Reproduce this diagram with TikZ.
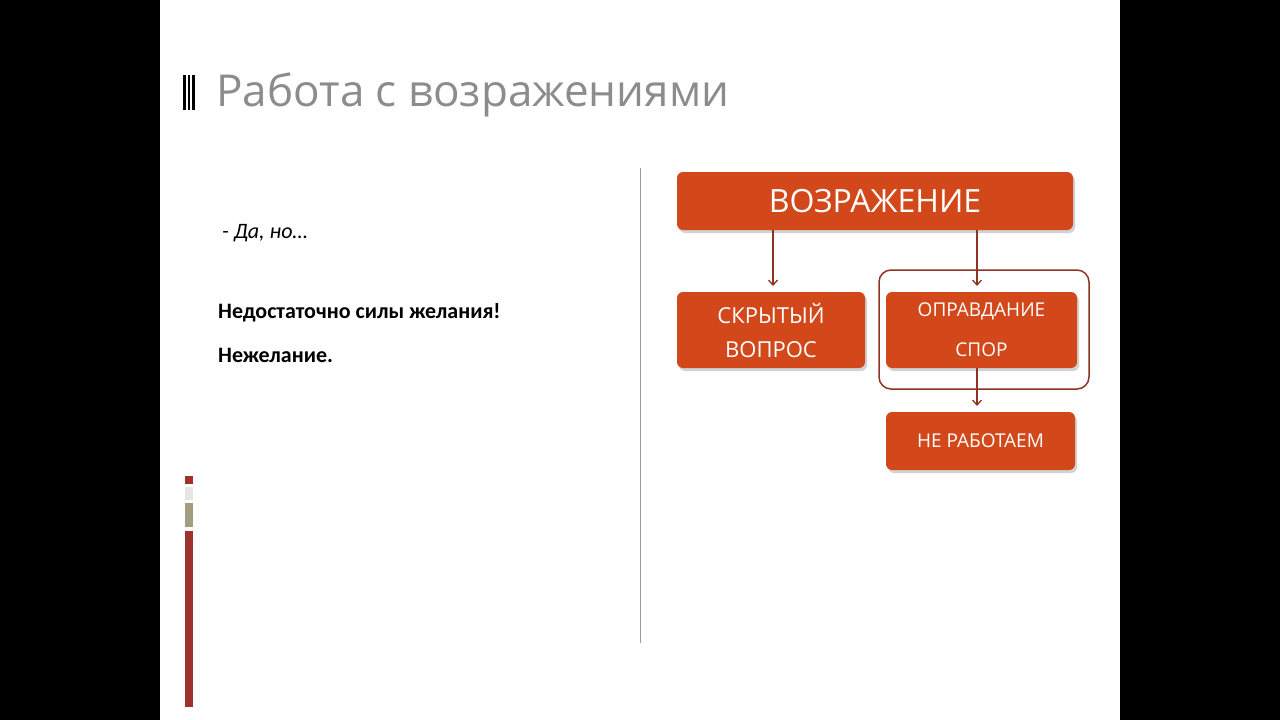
\documentclass[tikz,border=0pt]{standalone}
\usepackage{fontspec}
\setmainfont{Carlito}
\newfontfamily\titlefont{Open Sans}
\usetikzlibrary{shadows,arrows.meta}
\definecolor{boxred}{HTML}{D2481B}
\definecolor{darkred}{HTML}{8E3324}
\definecolor{barred}{HTML}{A0302B}
\definecolor{khaki}{HTML}{A39C7E}
\tikzset{
  box/.style={fill=boxred, rounded corners=6pt, draw=none, drop shadow={shadow xshift=2pt, shadow yshift=-3pt, opacity=0.35}},
  arr/.style={draw=darkred, line width=1.3pt, -{Straight Barb[length=5pt,width=9pt]}},
  boxtext/.style={text=white, font=\titlefont, align=center}
}
\begin{document}
\begin{tikzpicture}[x=1pt,y=-1pt]
\useasboundingbox (0,0) rectangle (1280,720);
\fill[black] (0,0) rectangle (1280,720);
\fill[white] (160,0) rectangle (1120,720);
% title decoration
\fill[black] (182.5,75) rectangle (185.5,110);
\fill[black] (187.5,75) rectangle (189.5,110);
\fill[black] (191.5,75) rectangle (195,110);
\node[anchor=west, text=black!45, font=\titlefont\fontsize{44}{50}\selectfont, inner sep=0] (title) at (216,95) {Работа с возражениями};
% left bar
\fill[barred] (185,476) rectangle (193,484);
\fill[black!10] (185,487) rectangle (193,500);
\fill[khaki] (185,503) rectangle (193,527);
\fill[barred] (185,531) rectangle (193,707);
% divider
\draw[black!40, line width=1pt] (640,168) -- (640,643);
% text
\node[anchor=west, font=\itshape\fontsize{22}{26}\selectfont, inner sep=0] (dn) at (222,233) {- Да, но…};
\node[anchor=west, font=\bfseries\fontsize{22}{26}\selectfont, inner sep=0] (t1) at (218,313) {Недостаточно силы желания!};
\node[anchor=west, font=\bfseries\fontsize{22}{26}\selectfont, inner sep=0] (t2) at (218,355) {Нежелание.};
% outline
\draw[darkred, line width=1.5pt, rounded corners=12pt] (879,270) rectangle (1089,389);
% boxes
\node[box, minimum width=396pt, minimum height=58pt] (voz) at (875,201) {};
\node[boxtext, font=\titlefont\fontsize{32}{36}\selectfont] at (voz) {ВОЗРАЖЕНИЕ};
\node[box, minimum width=188pt, minimum height=76pt] (skr) at (771,330) {};
\node[boxtext, font=\titlefont\fontsize{22}{34}\selectfont] at (skr) {СКРЫТЫЙ\\ВОПРОС};
\node[box, minimum width=191pt, minimum height=76pt] (opr) at (981.5,330) {};
\node[boxtext, font=\titlefont\fontsize{19}{40}\selectfont] at (opr) {ОПРАВДАНИЕ\\СПОР};
\node[box, minimum width=189pt, minimum height=58pt] (ne) at (980.5,441) {};
\node[boxtext, font=\titlefont\fontsize{19}{24}\selectfont] at (ne) {НЕ РАБОТАЕМ};
% arrows
\coordinate (a1) at (773,230); \coordinate (a1e) at (773,286);
\coordinate (a2) at (977,230); \coordinate (a2e) at (977,286);
\coordinate (a3) at (977,368); \coordinate (a3e) at (977,406);
\draw[arr] (a1) -- (a1e);
\draw[arr] (a2) -- (a2e);
\draw[arr] (a3) -- (a3e);
\end{tikzpicture}
\end{document}
